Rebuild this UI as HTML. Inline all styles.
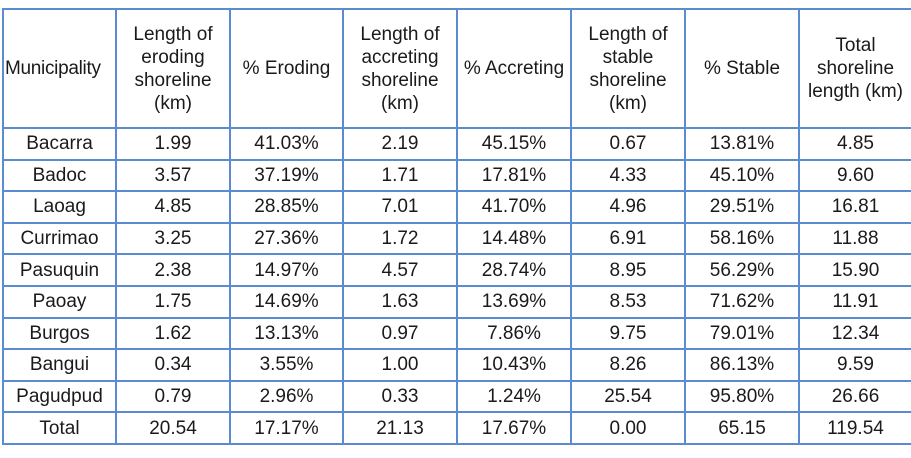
<!DOCTYPE html>
<html><head><meta charset="utf-8"><style>
html,body{margin:0;padding:0;background:#fff;width:911px;height:458px;overflow:hidden}
table{position:absolute;left:2px;top:8px;border-collapse:collapse;table-layout:fixed;width:909px;font-family:"Liberation Sans",sans-serif;font-size:19px;color:#1a1a1a}
td,th{border:2px solid #5b8bd0;text-align:center;font-weight:normal;padding:0;line-height:23px;white-space:nowrap}
th{height:117px}
td{height:29.6px}
th.m{text-align:left;padding-left:1px;letter-spacing:-0.3px}
</style></head><body>
<table>
<colgroup><col style="width:113px"><col style="width:114px"><col style="width:113px"><col style="width:114px"><col style="width:114px"><col style="width:114px"><col style="width:114px"><col style="width:113px"></colgroup>
<tr>
<th class="m">Municipality</th>
<th>Length of<br>eroding<br>shoreline<br>(km)</th>
<th>% Eroding</th>
<th>Length of<br>accreting<br>shoreline<br>(km)</th>
<th>% Accreting</th>
<th>Length of<br>stable<br>shoreline<br>(km)</th>
<th>% Stable</th>
<th>Total<br>shoreline<br>length (km)</th>
</tr>
<tr><td>Bacarra</td><td>1.99</td><td>41.03%</td><td>2.19</td><td>45.15%</td><td>0.67</td><td>13.81%</td><td>4.85</td></tr>
<tr><td>Badoc</td><td>3.57</td><td>37.19%</td><td>1.71</td><td>17.81%</td><td>4.33</td><td>45.10%</td><td>9.60</td></tr>
<tr><td>Laoag</td><td>4.85</td><td>28.85%</td><td>7.01</td><td>41.70%</td><td>4.96</td><td>29.51%</td><td>16.81</td></tr>
<tr><td>Currimao</td><td>3.25</td><td>27.36%</td><td>1.72</td><td>14.48%</td><td>6.91</td><td>58.16%</td><td>11.88</td></tr>
<tr><td>Pasuquin</td><td>2.38</td><td>14.97%</td><td>4.57</td><td>28.74%</td><td>8.95</td><td>56.29%</td><td>15.90</td></tr>
<tr><td>Paoay</td><td>1.75</td><td>14.69%</td><td>1.63</td><td>13.69%</td><td>8.53</td><td>71.62%</td><td>11.91</td></tr>
<tr><td>Burgos</td><td>1.62</td><td>13.13%</td><td>0.97</td><td>7.86%</td><td>9.75</td><td>79.01%</td><td>12.34</td></tr>
<tr><td>Bangui</td><td>0.34</td><td>3.55%</td><td>1.00</td><td>10.43%</td><td>8.26</td><td>86.13%</td><td>9.59</td></tr>
<tr><td>Pagudpud</td><td>0.79</td><td>2.96%</td><td>0.33</td><td>1.24%</td><td>25.54</td><td>95.80%</td><td>26.66</td></tr>
<tr><td>Total</td><td>20.54</td><td>17.17%</td><td>21.13</td><td>17.67%</td><td>0.00</td><td>65.15</td><td>119.54</td></tr>
</table>
</body></html>
